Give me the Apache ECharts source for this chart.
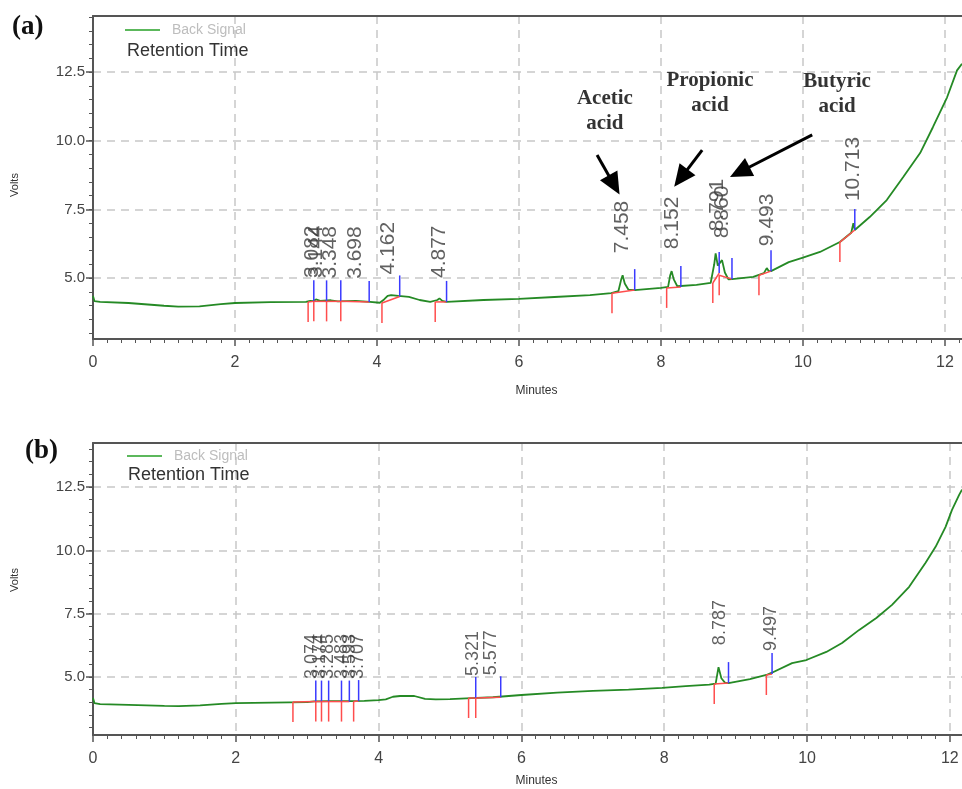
<!DOCTYPE html>
<html><head><meta charset="utf-8">
<script src="https://cdn.jsdelivr.net/npm/echarts@6/dist/echarts.min.js"></script>
<style>html,body{margin:0;padding:0;background:#fff}#c{width:962px;height:789px}</style>
</head><body><div id="c"></div>
<script>
// ---------- Panel (a) trace ----------
const timeA = [0.00,0.02,0.10,0.50,1.00,1.20,1.50,1.80,2.00,2.50,3.00,3.06,3.08,3.10,3.14,3.20,3.35,3.45,3.70,3.90,4.04,4.10,4.15,4.20,4.30,4.45,4.60,4.75,4.85,4.88,4.92,4.98,5.50,6.00,6.50,7.00,7.30,7.40,7.44,7.46,7.49,7.54,7.63,8.00,8.10,8.13,8.15,8.18,8.23,8.50,8.70,8.75,8.77,8.80,8.82,8.86,8.90,8.95,9.00,9.30,9.45,9.49,9.52,9.55,9.80,10.00,10.24,10.52,10.68,10.71,10.73,10.94,11.18,11.41,11.65,11.83,12.03,12.17,12.24];
const voltA = [4.35,4.16,4.13,4.09,3.99,3.96,3.97,4.05,4.09,4.12,4.13,4.17,4.24,4.16,4.22,4.17,4.19,4.15,4.17,4.13,4.10,4.22,4.35,4.38,4.35,4.31,4.20,4.13,4.20,4.26,4.17,4.13,4.20,4.24,4.31,4.38,4.45,4.52,4.95,5.10,4.80,4.58,4.56,4.64,4.68,5.10,5.25,4.95,4.70,4.75,4.82,5.50,5.90,5.45,5.40,5.65,5.20,4.95,4.96,5.04,5.18,5.36,5.25,5.25,5.58,5.74,5.95,6.31,6.65,7.00,6.75,7.22,7.84,8.67,9.55,10.49,11.58,12.56,12.80];
// integration markers (a)
const pkStartA  = [3.03,3.11,3.29,3.49,4.07,4.82,7.31,8.08,8.73,8.82,9.38,10.52];
const pkStartVA = [4.13,4.15,4.15,4.15,4.09,4.13,4.45,4.64,4.82,5.10,5.10,6.31];
const pkEndA    = [3.11,3.29,3.49,3.89,4.32,4.98,7.63,8.28,8.82,9.00,9.55,10.73];
const pkEndVA   = [4.15,4.15,4.15,4.13,4.33,4.13,4.56,4.67,5.18,4.96,5.25,6.75];
// retention time labels (a)
const rtA     = ['3.082','3.144','3.348','3.698','4.162','4.877','7.458','8.152','8.791','8.860','9.493','10.713'];
const rtApexA = [4.20,4.20,4.18,4.17,4.33,4.20,5.10,5.25,5.90,5.65,5.36,7.00];
// annotations (a)
const annoText = ['Acetic\nacid','Propionic\nacid','Butyric\nacid'];
const annoT = [7.21,8.69,10.48];
const annoV = [11.08,11.75,11.68];
const arrowFromT = [7.10,8.58,10.13];
const arrowFromV = [9.48,9.66,10.21];
const arrowToT   = [7.34,8.28,9.11];
const arrowToV   = [8.39,8.64,8.86];

// ---------- Panel (b) trace ----------
const timeB = [0.00,0.02,0.10,0.50,1.00,1.20,1.50,1.80,2.00,2.50,3.00,3.10,3.30,3.60,3.80,4.00,4.10,4.20,4.30,4.50,4.65,4.80,5.00,5.30,5.60,6.00,6.50,7.00,7.50,7.97,8.30,8.63,8.72,8.76,8.80,8.85,8.90,9.20,9.43,9.50,9.79,9.99,10.27,10.49,10.73,10.97,11.19,11.43,11.66,11.80,11.94,12.03,12.13,12.17];
const voltB = [4.17,3.97,3.93,3.90,3.86,3.85,3.88,3.94,3.97,3.99,4.01,4.04,4.05,4.05,4.06,4.09,4.12,4.22,4.25,4.25,4.14,4.12,4.13,4.17,4.20,4.29,4.38,4.45,4.50,4.57,4.64,4.70,4.74,5.39,4.95,4.78,4.76,4.92,5.08,5.16,5.55,5.67,5.99,6.34,6.86,7.33,7.85,8.56,9.51,10.14,10.93,11.60,12.19,12.40];
const pkStartB  = [2.80,3.12,3.20,3.30,3.48,3.65,5.26,5.36,8.70,9.43];
const pkStartVB = [4.01,4.03,4.03,4.03,4.03,4.03,4.17,4.17,4.72,5.08];
const pkEndB    = [3.12,3.20,3.30,3.48,3.59,3.72,5.36,5.71,8.90,9.51];
const pkEndVB   = [4.03,4.03,4.03,4.03,4.03,4.05,4.17,4.20,4.76,5.12];
const rtB     = ['3.074','3.174','3.285','3.483','3.593','3.707','5.321','5.577','8.787','9.497'];
const rtApexB = [4.05,4.05,4.05,4.05,4.05,4.05,4.17,4.20,5.39,5.16];

// ---------- axes ----------
const xTicks = [0,2,4,6,8,10,12];
const yTicks = [5.0,7.5,10.0,12.5];
const xMaxA = 12.24, xMaxB = 12.17;
const yMinA = 2.78, yMaxA = 14.54;
const yMinB = 2.71, yMaxB = 14.24;

const FONT = 'Liberation Sans, Arial, sans-serif';
const AX = '#555';
const minorY = [];
for (let v = 3; v <= 14.5; v += 0.5) minorY.push(v);

function pairs(t, v) { return t.map((x, i) => [x, v[i]]); }
function peaks(s, sv, e, ev) { return s.map((x, i) => [x, sv[i], e[i], ev[i]]); }

function xMain(g, max, gap) {
  return {
    gridIndex: g, type: 'value', min: 0, max: max, interval: 2,
    axisLine: {show: true, onZero: false, lineStyle: {color: AX, width: 2}},
    axisTick: {show: true, length: 7, customValues: xTicks, lineStyle: {color: AX, width: 1.5}},
    minorTick: {show: true, splitNumber: 10, length: 4, lineStyle: {color: AX, width: 1}},
    axisLabel: {show: true, fontSize: 16, color: '#444', fontFamily: FONT, margin: 16, customValues: xTicks},
    splitLine: {show: true, lineStyle: {color: '#c8c8c8', width: 1.5, type: [8, 6]}},
    name: 'Minutes', nameLocation: 'middle', nameGap: gap,
    nameTextStyle: {fontSize: 12, color: '#333', fontFamily: FONT, padding: [0, 0, 0, 18]}
  };
}
function xTop(g, max) {
  return {gridIndex: g, type: 'value', position: 'top', min: 0, max: max,
    axisLine: {show: true, onZero: false, lineStyle: {color: AX, width: 2}},
    axisTick: {show: false}, axisLabel: {show: false}, splitLine: {show: false}};
}
function yMain(g, min, max) {
  return {
    gridIndex: g, type: 'value', position: 'left', min: min, max: max,
    axisLine: {show: true, onZero: false, lineStyle: {color: AX, width: 2}},
    axisTick: {show: true, customValues: yTicks, length: 7, lineStyle: {color: AX, width: 1.5}},
    axisLabel: {show: true, customValues: yTicks, formatter: v => v.toFixed(1), fontSize: 15, color: '#444', fontFamily: FONT, margin: 8},
    splitLine: {show: true, lineStyle: {color: '#c8c8c8', width: 1.5, type: [8, 6]}}
  };
}
function yMinor(g, min, max) {
  return {
    gridIndex: g, type: 'value', position: 'left', min: min, max: max,
    axisLine: {show: false},
    axisTick: {show: true, customValues: minorY, length: 4, lineStyle: {color: AX, width: 1}},
    axisLabel: {show: false}, splitLine: {show: false}
  };
}

function markerSeries(xi, yi, data) {
  return {
    type: 'custom', xAxisIndex: xi, yAxisIndex: yi, z: 5, silent: true,
    encode: {x: [0, 2], y: [1, 3]},
    data: data,
    renderItem: function (params, api) {
      const s = api.coord([api.value(0), api.value(1)]);
      const e = api.coord([api.value(2), api.value(3)]);
      return {type: 'group', children: [
        {type: 'line', shape: {x1: s[0], y1: s[1], x2: e[0], y2: e[1]}, style: {stroke: '#ff4d4d', lineWidth: 1.5}},
        {type: 'line', shape: {x1: s[0], y1: s[1], x2: s[0], y2: s[1] + 20}, style: {stroke: '#ff4d4d', lineWidth: 1.5}},
        {type: 'line', shape: {x1: e[0], y1: e[1], x2: e[0], y2: e[1] - 21}, style: {stroke: '#3a3aff', lineWidth: 1.5}}
      ]};
    }
  };
}
function labelSeries(xi, yi, names, t, v, fs) {
  return {
    type: 'scatter', xAxisIndex: xi, yAxisIndex: yi, symbolSize: 0, silent: true, z: 6,
    data: names.map((n, i) => ({name: n, value: [t[i], v[i]]})),
    label: {show: true, position: 'top', distance: 22, rotate: 90, align: 'left', verticalAlign: 'middle',
      formatter: '{b}', fontSize: fs, color: '#3a3a3a', fontFamily: FONT}
  };
}

const option = {
  animation: false,
  backgroundColor: '#fff',
  grid: [
    {left: 93, top: 16, width: 869, height: 323, outerBoundsMode: 'none'},
    {left: 93, top: 443, width: 869, height: 292, outerBoundsMode: 'none'}
  ],
  xAxis: [xMain(0, xMaxA, 46), xTop(0, xMaxA), xMain(1, xMaxB, 40), xTop(1, xMaxB)],
  yAxis: [yMain(0, yMinA, yMaxA), yMinor(0, yMinA, yMaxA), yMain(1, yMinB, yMaxB), yMinor(1, yMinB, yMaxB)],
  title: [
    {text: '(a)', left: 12, top: 14, padding: 0, textStyle: {fontFamily: 'Liberation Serif, Times New Roman, serif', fontWeight: 'bold', fontSize: 27, color: '#111'}},
    {text: '(b)', left: 25, top: 438, padding: 0, textStyle: {fontFamily: 'Liberation Serif, Times New Roman, serif', fontWeight: 'bold', fontSize: 27, color: '#111'}},
    {text: 'Retention Time', left: 127, top: 42, padding: 0, textStyle: {fontFamily: FONT, fontWeight: 'normal', fontSize: 18, color: '#333'}},
    {text: 'Retention Time', left: 128, top: 466, padding: 0, textStyle: {fontFamily: FONT, fontWeight: 'normal', fontSize: 18, color: '#333'}}
  ],
  legend: [
    {data: ['Back Signal'], left: 125, top: 23, padding: 0, icon: 'rect', itemWidth: 35, itemHeight: 2,
      itemStyle: {color: '#5cb85c'}, textStyle: {color: '#bdbdbd', fontSize: 14, fontFamily: FONT, padding: [0, 0, 0, 7]}, selectedMode: false},
    {data: ['Back Signal'], left: 127, top: 449, padding: 0, icon: 'rect', itemWidth: 35, itemHeight: 2,
      itemStyle: {color: '#5cb85c'}, textStyle: {color: '#bdbdbd', fontSize: 14, fontFamily: FONT, padding: [0, 0, 0, 7]}, selectedMode: false}
  ],
  graphic: [
    {type: 'text', x: 15, y: 185, rotation: Math.PI / 2, style: {text: 'Volts', fontSize: 11, fontFamily: FONT, fill: '#333', align: 'center', verticalAlign: 'middle'}},
    {type: 'text', x: 15, y: 580, rotation: Math.PI / 2, style: {text: 'Volts', fontSize: 11, fontFamily: FONT, fill: '#333', align: 'center', verticalAlign: 'middle'}}
  ],
  series: [
    {name: 'Back Signal', type: 'line', xAxisIndex: 0, yAxisIndex: 0, data: pairs(timeA, voltA), showSymbol: false, symbol: 'none',
      lineStyle: {color: '#258a25', width: 1.8}, itemStyle: {color: '#258a25'}, z: 3, silent: true},
    markerSeries(0, 0, peaks(pkStartA, pkStartVA, pkEndA, pkEndVA)),
    labelSeries(0, 0, rtA, rtA.map(Number), rtApexA, 21),
    {type: 'scatter', xAxisIndex: 0, yAxisIndex: 0, symbolSize: 0, silent: true, z: 7,
      data: annoText.map((n, i) => ({name: n, value: [annoT[i], annoV[i]]})),
      label: {show: true, position: 'inside', formatter: '{b}', fontFamily: 'Liberation Serif, Times New Roman, serif',
        fontWeight: 'bold', fontSize: 21, lineHeight: 25, color: '#000', align: 'center', verticalAlign: 'middle'},
      markLine: {silent: true, symbol: ['none', 'triangle'], symbolSize: [20, 22], label: {show: false},
        lineStyle: {color: '#000', width: 3, type: 'solid'}, emphasis: {disabled: true},
        data: arrowFromT.map((t, i) => [{coord: [t, arrowFromV[i]]}, {coord: [arrowToT[i], arrowToV[i]]}])}
    },
    {name: 'Back Signal', type: 'line', xAxisIndex: 2, yAxisIndex: 2, data: pairs(timeB, voltB), showSymbol: false, symbol: 'none',
      lineStyle: {color: '#258a25', width: 1.8}, itemStyle: {color: '#258a25'}, z: 3, silent: true},
    markerSeries(2, 2, peaks(pkStartB, pkStartVB, pkEndB, pkEndVB)),
    labelSeries(2, 2, rtB, rtB.map(Number), rtApexB, 18)
  ]
};
const chart = echarts.init(document.getElementById('c'), null, {renderer: 'canvas'});
chart.setOption(option);
</script></body></html>
